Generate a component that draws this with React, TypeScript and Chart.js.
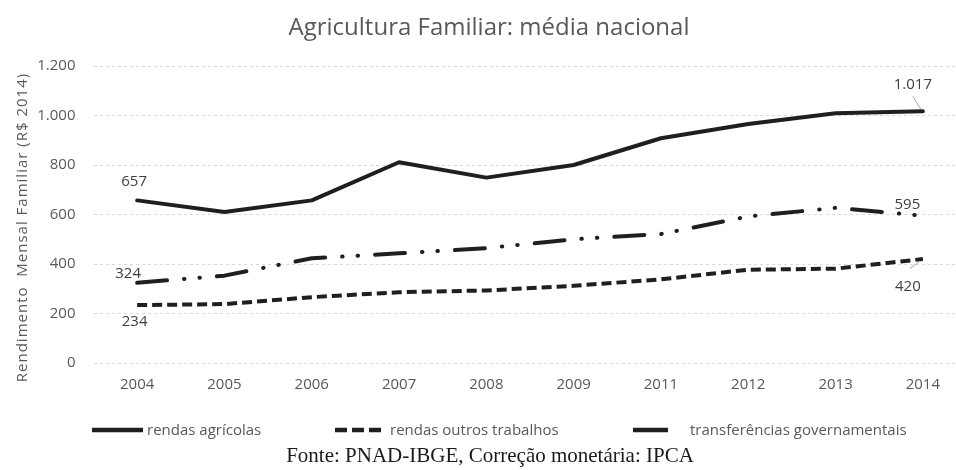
import React, { useEffect, useRef } from 'react';
import { Chart, registerables } from 'chart.js';

Chart.register(...registerables);

// ---- data ----
const years = ['2004', '2005', '2006', '2007', '2008', '2009', '2011', '2012', '2013', '2014'];
const rendasAgricolas = [657, 610, 657, 811, 749, 800, 908, 966, 1009, 1017];
const rendasOutros = [234, 238, 266, 286, 293, 312, 338, 377, 381, 420];
const transferencias = [324, 353, 423, 443, 464, 500, 521, 592, 627, 595];
const yMin = 0;
const yMax = 1200;
const yStep = 200;
const seriesNames = ['rendas agrícolas', 'rendas outros trabalhos', 'transferências governamentais'];
const chartTitle = 'Agricultura Familiar: média nacional';
const yTitle = 'Rendimento  Mensal Familiar (R$ 2014)';
const sourceText = 'Fonte: PNAD-IBGE, Correção monetária: IPCA';

const fmt = (n: number) => String(n).replace(/\B(?=(\d{3})+(?!\d))/g, '.');

const SANS = '"Open Sans", "DejaVu Sans", sans-serif';
const GRAY = '#595959';
const INK = '#1f1f1f';

// which end-point values get a label: [dataset, index, dx, dy, leader]
const pointLabels: Array<[number, number, number, number, boolean]> = [
  [0, 0, -3, -14.5, false],
  [0, 9, -10, -22, true],
  [2, 9, -15.5, -7, false],
  [2, 0, -9, -5, false],
  [1, 0, -2.5, 21, false],
  [1, 9, -15, 31.5, true],
];

const overlay = {
  id: 'overlay',
  afterDraw(chart: any) {
    const ctx = chart.ctx as CanvasRenderingContext2D;
    const xs = chart.scales.x;
    const ys = chart.scales.y;
    ctx.save();

    // title
    ctx.fillStyle = GRAY;
    ctx.font = `24px ${SANS}`;
    ctx.textAlign = 'center';
    ctx.textBaseline = 'alphabetic';
    ctx.fillText(chartTitle, 489, 35);

    // y-axis title
    ctx.save();
    ctx.translate(23, 227.5);
    ctx.rotate(-Math.PI / 2);
    ctx.font = `15px ${SANS}`;
    (ctx as any).letterSpacing = '1px';
    ctx.textBaseline = 'middle';
    ctx.textAlign = 'center';
    ctx.fillStyle = GRAY;
    ctx.fillText(yTitle, 0, 0);
    (ctx as any).letterSpacing = '0px';
    ctx.restore();

    // point labels
    ctx.font = `15px ${SANS}`;
    ctx.fillStyle = '#404040';
    ctx.textAlign = 'center';
    ctx.textBaseline = 'alphabetic';
    pointLabels.forEach(([ds, i, dx, dy, leader]) => {
      const v = chart.data.datasets[ds].data[i] as number;
      const px = xs.getPixelForValue(i);
      const py = ys.getPixelForValue(v);
      ctx.fillText(fmt(v), px + dx, py + dy);
      if (leader) {
        ctx.save();
        ctx.strokeStyle = '#a6a6a6';
        ctx.lineWidth = 1;
        ctx.beginPath();
        if (dy < 0) {
          ctx.moveTo(px + dx, py + dy + 7);
          ctx.lineTo(px - 2, py - 2);
        } else {
          ctx.moveTo(px + dx + 2, py + dy - 22);
          ctx.lineTo(px - 4, py + 3);
        }
        ctx.stroke();
        ctx.restore();
      }
    });

    // legend
    const legendY = 430;
    const samples: Array<[number, number, number[], number]> = [
      [92, 143, [], 147],
      [335, 381, [12, 5], 390],
      [633, 668, [], 690],
    ];
    samples.forEach(([x0, x1, dash, tx], k) => {
      ctx.save();
      ctx.strokeStyle = INK;
      ctx.lineWidth = 4.5;
      ctx.setLineDash(dash);
      ctx.beginPath();
      ctx.moveTo(x0, legendY);
      ctx.lineTo(x1, legendY);
      ctx.stroke();
      ctx.restore();
      ctx.font = `15px ${SANS}`;
      ctx.fillStyle = GRAY;
      ctx.textAlign = 'left';
      ctx.textBaseline = 'alphabetic';
      ctx.fillText(seriesNames[k], tx, 435);
    });

    // source
    ctx.font = '21px "Liberation Serif", "DejaVu Serif", serif';
    ctx.fillStyle = '#1a1a1a';
    ctx.textAlign = 'center';
    ctx.fillText(sourceText, 490, 462);

    ctx.restore();
  },
};

export default function App() {
  const ref = useRef<HTMLCanvasElement | null>(null);

  useEffect(() => {
    if (!ref.current) return;
    const chart = new Chart(ref.current, {
      type: 'line',
      data: {
        labels: years,
        datasets: [
          {
            label: seriesNames[0],
            data: rendasAgricolas,
            borderColor: INK,
            borderWidth: 4,
            borderJoinStyle: 'round',
            borderCapStyle: 'round',
            pointRadius: 0,
            tension: 0,
            fill: false,
          },
          {
            label: seriesNames[1],
            data: rendasOutros,
            borderColor: INK,
            borderWidth: 4,
            borderDash: [10, 5],
            borderJoinStyle: 'round',
            pointRadius: 0,
            tension: 0,
            fill: false,
          },
          {
            label: seriesNames[2],
            data: transferencias,
            borderColor: INK,
            borderWidth: 4,
            borderDash: [30, 17, 0.5, 15, 0.5, 17],
            borderCapStyle: 'round',
            borderJoinStyle: 'round',
            pointRadius: 0,
            tension: 0,
            fill: false,
          },
        ],
      },
      options: {
        responsive: false,
        animation: false,
        layout: { padding: { top: 66, right: 5.5, left: 0, bottom: 0 } },
        plugins: {
          legend: { display: false },
          title: { display: false },
          tooltip: { enabled: false },
        },
        scales: {
          x: {
            offset: true,
            grid: { display: false, drawTicks: false },
            border: { display: false },
            ticks: {
              color: GRAY,
              font: { family: SANS, size: 15 },
              padding: 13,
              maxRotation: 0,
              autoSkip: false,
            },
            afterFit: (s: any) => {
              s.height = 107;
            },
          },
          y: {
            min: yMin,
            max: yMax,
            grid: { color: '#d9d9d9', lineWidth: 1, drawTicks: false },
            border: { display: false, dash: [3, 3] },
            ticks: {
              stepSize: yStep,
              color: GRAY,
              font: { family: SANS, size: 15 },
              padding: 18,
              callback: (v: any) => fmt(Number(v)),
            },
            afterFit: (s: any) => {
              s.width = 93.5;
            },
          },
        },
      },
      plugins: [overlay],
    });
    return () => chart.destroy();
  }, []);

  return (
    <div
      style={{
        position: 'fixed',
        left: 0,
        top: 0,
        width: 956,
        height: 470,
        overflow: 'hidden',
        background: '#fff',
      }}
    >
      <canvas ref={ref} width={972} height={470} style={{ display: 'block' }} />
    </div>
  );
}
